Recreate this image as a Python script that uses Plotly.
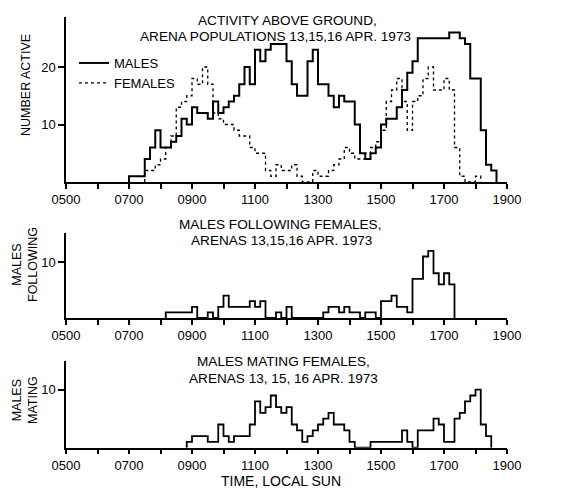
import plotly.graph_objects as go

W, H = 566, 495
BIN_MIN = 10  # data are counts per 10-minute interval

HOUR_TICKS = list(range(5, 20))
HOUR_LABELS = ["0500", "", "0700", "", "0900", "", "1100", "", "1300", "",
               "1500", "", "1700", "", "1900"]

# Activity above ground (10-min bins)
MALES_START = "0700"
MALES = [1, 1, 1, 4, 6, 9,
         6, 6, 7, 8, 11, 10,
         13, 12, 12, 11, 14, 12,
         13, 14, 15, 17, 20, 17,
         23, 21, 23, 24, 24, 24,
         21, 17, 15, 15, 21, 23,
         17, 17, 15, 13, 15, 14,
         14, 10, 5, 4, 5, 6,
         10, 11, 11, 13, 16, 19,
         21, 25, 25, 25, 25, 25,
         25, 26, 26, 25, 24, 18,
         18, 9, 3, 2]

FEMALES_START = "0730"
FEMALES = [2, 2, 3,
           4, 6, 8, 13, 14, 15,
           18, 17, 20, 17, 12, 11,
           10, 10, 9, 8, 8, 6,
           5, 5, 2, 1, 3, 2,
           2, 3, 1, 0, 0, 2,
           1, 1, 2, 3, 4, 6,
           5, 4, 4, 5, 6, 7,
           9, 14, 16, 18, 14, 9,
           14, 15, 18, 20, 16, 16,
           18, 16, 6, 1, 0, 0,
           1]

# Males following females
FOLLOW_START = "0810"
FOLLOWING = [1, 1, 1, 1, 1,
             2, 0, 0, 1, 0, 2,
             4, 2, 2, 2, 2, 3,
             2, 3, 0, 0, 1, 0,
             2, 0, 0, 0, 0, 0,
             0, 1, 2, 2, 1, 2,
             1, 1, 0, 1, 1, 0,
             3, 3, 4, 2, 2, 1,
             7, 7, 11, 12, 8, 6,
             8, 6]

# Males mating females
MATING_START = "0850"
MATING = [1,
          2, 2, 2, 1, 1, 4,
          2, 1, 2, 2, 2, 4,
          8, 6, 7, 9, 7, 6,
          7, 4, 3, 1, 2, 3,
          4, 5, 6, 4, 4, 3,
          1, 0, 0, 0, 1, 1,
          1, 1, 1, 1, 3, 1,
          0, 3, 3, 3, 5, 4,
          1, 1, 5, 6, 8, 9,
          10, 4, 2]

FONT = "Liberation Sans, Arial, sans-serif"


def hhmm(s):
    return int(s[:2]) + int(s[2:]) / 60.0


def steps(start, vals):
    t0 = hhmm(start)
    dt = BIN_MIN / 60.0
    xs = [t0] + [t0 + i * dt for i in range(len(vals))] + [t0 + len(vals) * dt] * 2
    ys = [0] + list(vals) + [vals[-1], 0]
    return xs, ys


fig = go.Figure()

x, y = steps(MALES_START, MALES)
fig.add_trace(go.Scatter(x=x, y=y, mode="lines", line_shape="hv", name="MALES",
                         line=dict(color="black", width=2), xaxis="x", yaxis="y"))
x, y = steps(FEMALES_START, FEMALES)
fig.add_trace(go.Scatter(x=x, y=y, mode="lines", line_shape="hv", name="FEMALES",
                         line=dict(color="black", width=1.3, dash="dot"), xaxis="x", yaxis="y"))
x, y = steps(FOLLOW_START, FOLLOWING)
fig.add_trace(go.Scatter(x=x, y=y, mode="lines", line_shape="hv", showlegend=False,
                         line=dict(color="black", width=1.8), xaxis="x2", yaxis="y2"))
x, y = steps(MATING_START, MATING)
fig.add_trace(go.Scatter(x=x, y=y, mode="lines", line_shape="hv", showlegend=False,
                         line=dict(color="black", width=1.8), xaxis="x3", yaxis="y3"))

XL, XR = 66 / W, 507 / W


def ydom(bottom_px, top_px):
    return [1 - bottom_px / H, 1 - top_px / H]


def xaxis(anchor):
    return dict(domain=[XL, XR], range=[5, 19], anchor=anchor, automargin=False,
                showline=True, linecolor="black", linewidth=1.5,
                ticks="outside", ticklen=5, tickwidth=1.5, tickcolor="black",
                tickvals=HOUR_TICKS, ticktext=HOUR_LABELS,
                tickfont=dict(size=13, color="black", family=FONT),
                showgrid=False, zeroline=False, fixedrange=True)


def yaxis(anchor, dom, top, tv):
    return dict(domain=dom, range=[0, top], anchor=anchor, automargin=False,
                showline=True, linecolor="black", linewidth=1.5,
                ticks="outside", ticklen=6, tickwidth=1.5, tickcolor="black",
                tickvals=tv, ticktext=[str(v) for v in tv],
                tickfont=dict(size=13, color="black", family=FONT),
                showgrid=False, zeroline=False, fixedrange=True)


ann = []


def text(s, x, y, size=13.6, angle=0):
    ann.append(dict(text=s, x=x / W, y=1 - y / H, xref="paper", yref="paper",
                    showarrow=False, textangle=angle, xanchor="center", yanchor="middle",
                    font=dict(size=size, color="black", family=FONT)))


text("ACTIVITY ABOVE GROUND,", 287, 20)
text("ARENA POPULATIONS 13,15,16 APR. 1973", 275, 36)
text("MALES FOLLOWING FEMALES,", 280, 224)
text("ARENAS 13,15,16 APR. 1973", 281, 240)
text("MALES MATING FEMALES,", 283, 361)
text("ARENAS 13, 15, 16 APR. 1973", 283, 378)
text("TIME, LOCAL SUN", 281, 481, size=14)
text("NUMBER ACTIVE", 26, 85, size=12.5, angle=-90)
text("MALES<br>FOLLOWING", 25, 265, size=12.5, angle=-90)
text("MALES<br>MATING", 25, 400, size=12.5, angle=-90)

fig.update_layout(
    width=W, height=H,
    margin=dict(l=0, r=0, t=0, b=0, autoexpand=False),
    paper_bgcolor="white", plot_bgcolor="white",
    font=dict(family=FONT, color="black"),
    xaxis=xaxis("y"),
    yaxis=yaxis("x", ydom(182, 17), 28.7, [10, 20]),
    xaxis2=xaxis("y2"),
    yaxis2=yaxis("x2", ydom(318, 233), 15.2, [10]),
    xaxis3=xaxis("y3"),
    yaxis3=yaxis("x3", ydom(447.7, 360.7), 15, [10]),
    annotations=ann,
    showlegend=True,
    legend=dict(x=74 / W, y=1 - 48 / H, xanchor="left", yanchor="top",
                bgcolor="rgba(0,0,0,0)", font=dict(size=13, family=FONT, color="black"),
                tracegroupgap=0, itemclick=False, itemdoubleclick=False),
)

fig.write_html("out.html", config={"displayModeBar": False},
               post_script="document.body.style.margin='0';document.body.style.overflow='hidden';")
